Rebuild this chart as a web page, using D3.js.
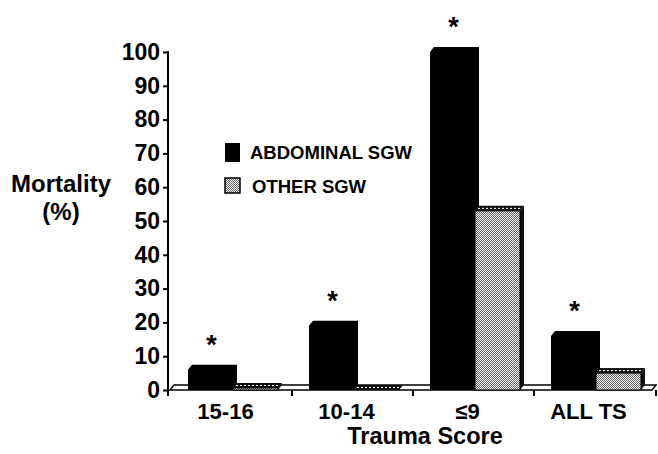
<!DOCTYPE html>
<html>
<head>
<meta charset="utf-8">
<script src="https://cdn.jsdelivr.net/npm/d3@7"></script>
<style>
  body { margin: 0; background: #fff; }
  svg { display: block; font-family: "Liberation Sans", Arial, sans-serif; font-weight: bold; }
</style>
</head>
<body>
<svg width="658" height="454"></svg>
<script>
var categories = ["15-16", "10-14", "\u22649", "ALL TS"];
var seriesNames = ["ABDOMINAL SGW", "OTHER SGW"];
var abdominal = [6, 19, 100, 16];
var other = [0.6, 0, 53, 5];
var starred = [true, true, true, true];
var yTicks = [0, 10, 20, 30, 40, 50, 60, 70, 80, 90, 100];

var svg = d3.select("svg");

var x0 = d3.scaleBand().domain(categories).range([170, 656]).round(true);
var x1 = d3.scaleBand().domain(seriesNames).range([17, 107]);
var y = d3.scaleLinear().domain([0, 100]).range([390, 52]);

var dx = 4, dy = 5;

// dotted fill for the second series
var defs = svg.append("defs");
var pat = defs.append("pattern")
    .attr("id", "dots")
    .attr("patternUnits", "userSpaceOnUse")
    .attr("width", 2).attr("height", 2);
pat.append("rect").attr("width", 2).attr("height", 2).attr("fill", "#f2f2f2");
pat.append("rect").attr("width", 1).attr("height", 1).attr("fill", "#666");
pat.append("rect").attr("x", 1).attr("y", 1).attr("width", 1).attr("height", 1).attr("fill", "#666");

// floor of the 3d chart
var fx0 = 170, fx1 = 656 - dx;
svg.append("path")
    .attr("d", "M" + fx0 + "," + y(0) + "L" + fx1 + "," + y(0) + "L" + (fx1 + dx) + "," + (y(0) - dy) +
      "L" + (fx0 + dx) + "," + (y(0) - dy) + "Z")
    .attr("fill", "#fff")
    .attr("stroke", "#000")
    .attr("stroke-width", 1.5);

var data = categories.map(function(c, i) {
  return { cat: c, vals: [abdominal[i], other[i]], star: starred[i] };
});

var groups = svg.append("g").selectAll("g")
    .data(data)
  .enter().append("g")
    .attr("transform", function(d) { return "translate(" + x0(d.cat) + ",0)"; });

var w = x1.bandwidth();

// black bars (front, top and side all black)
groups.append("path")
    .attr("fill", "#000")
    .attr("d", function(d) {
      var bx = x1(seriesNames[0]), t = y(d.vals[0]), b = y(0);
      return "M" + bx + "," + b + "L" + bx + "," + t + "L" + (bx + dx) + "," + (t - dy) +
        "L" + (bx + w + dx) + "," + (t - dy) + "L" + (bx + w + dx) + "," + (b - dy) +
        "L" + (bx + w) + "," + b + "Z";
    });

// dotted bars: side, top, front
groups.append("path")
    .attr("fill", "#111")
    .attr("d", function(d) {
      var bx = x1(seriesNames[1]) + w, t = y(d.vals[1]), b = y(0);
      return "M" + bx + "," + b + "L" + bx + "," + t + "L" + (bx + dx) + "," + (t - dy) +
        "L" + (bx + dx) + "," + (b - dy) + "Z";
    });
groups.append("path")
    .attr("fill", "#111")
    .attr("d", function(d) {
      var bx = x1(seriesNames[1]), t = y(d.vals[1]);
      return "M" + bx + "," + t + "L" + (bx + dx) + "," + (t - dy) + "L" + (bx + w + dx) + "," + (t - dy) +
        "L" + (bx + w) + "," + t + "Z";
    });
groups.append("line")
    .attr("x1", function() { return x1(seriesNames[1]) + 3; })
    .attr("x2", function() { return x1(seriesNames[1]) + w; })
    .attr("y1", function(d) { return y(d.vals[1]) - dy / 2; })
    .attr("y2", function(d) { return y(d.vals[1]) - dy / 2; })
    .attr("stroke", "#fff")
    .attr("stroke-width", 1)
    .attr("stroke-dasharray", "2,2");
groups.append("rect")
    .attr("x", x1(seriesNames[1]))
    .attr("y", function(d) { return y(d.vals[1]); })
    .attr("width", w)
    .attr("height", function(d) { return y(0) - y(d.vals[1]); })
    .attr("fill", "url(#dots)")
    .attr("stroke", "#000")
    .attr("stroke-width", 1);

// significance asterisks
groups.filter(function(d) { return d.star; })
  .append("text")
    .attr("x", x1(seriesNames[0]) + w / 2 + 1)
    .attr("y", function(d) { return y(d.vals[0]) - 16; })
    .attr("text-anchor", "middle")
    .attr("font-size", 27)
    .text("*");

// y axis
var yAxis = d3.axisLeft(y)
    .tickValues(yTicks)
    .tickSize(5)
    .tickPadding(3);

var gy = svg.append("g")
    .attr("transform", "translate(168,0)")
    .call(yAxis);
gy.select(".domain").remove();
gy.selectAll(".tick line").attr("stroke-width", 2);
gy.selectAll(".tick text")
    .attr("font-size", 23)
    .attr("font-family", "Liberation Sans, Arial, sans-serif")
    .attr("font-weight", "bold")
    .attr("fill", "#000");
gy.append("line")
    .attr("x1", 0).attr("x2", 0)
    .attr("y1", y(100) - 1).attr("y2", y(0) + 6)
    .attr("stroke", "#000")
    .attr("stroke-width", 2);

// x ticks at the band edges
svg.append("g").selectAll("line")
    .data(categories)
  .enter().append("line")
    .attr("x1", function(d, i) { return i == categories.length - 1 ? 656 : x0(d) + x0.step(); })
    .attr("x2", function(d, i) { return i == categories.length - 1 ? 656 : x0(d) + x0.step(); })
    .attr("y1", y(0))
    .attr("y2", y(0) + 6)
    .attr("stroke", "#000")
    .attr("stroke-width", 2);

// category labels
svg.append("g").selectAll("text")
    .data(categories)
  .enter().append("text")
    .attr("x", function(d) { return x0(d) + x0.bandwidth() / 2 - 6; })
    .attr("y", 419)
    .attr("text-anchor", "middle")
    .attr("font-size", 22)
    .text(function(d) { return d; });

svg.append("text")
    .attr("x", 425)
    .attr("y", 444)
    .attr("text-anchor", "middle")
    .attr("font-size", 23.5)
    .text("Trauma Score");

svg.append("text")
    .attr("x", 61)
    .attr("y", 192)
    .attr("text-anchor", "middle")
    .attr("font-size", 24)
    .text("Mortality");
svg.append("text")
    .attr("x", 61)
    .attr("y", 220)
    .attr("text-anchor", "middle")
    .attr("font-size", 24)
    .text("(%)");

// legend
var legend = svg.append("g").attr("transform", "translate(225,143)");
legend.append("rect")
    .attr("width", 15).attr("height", 19)
    .attr("fill", "#000");
legend.append("text")
    .attr("x", 25).attr("y", 16)
    .attr("font-size", 18.5)
    .text(seriesNames[0]);
legend.append("rect")
    .attr("y", 35)
    .attr("width", 15).attr("height", 15)
    .attr("fill", "url(#dots)")
    .attr("stroke", "#000")
    .attr("stroke-width", 1.5);
legend.append("text")
    .attr("x", 27).attr("y", 50)
    .attr("font-size", 18.5)
    .text(seriesNames[1]);
</script>
</body>
</html>
